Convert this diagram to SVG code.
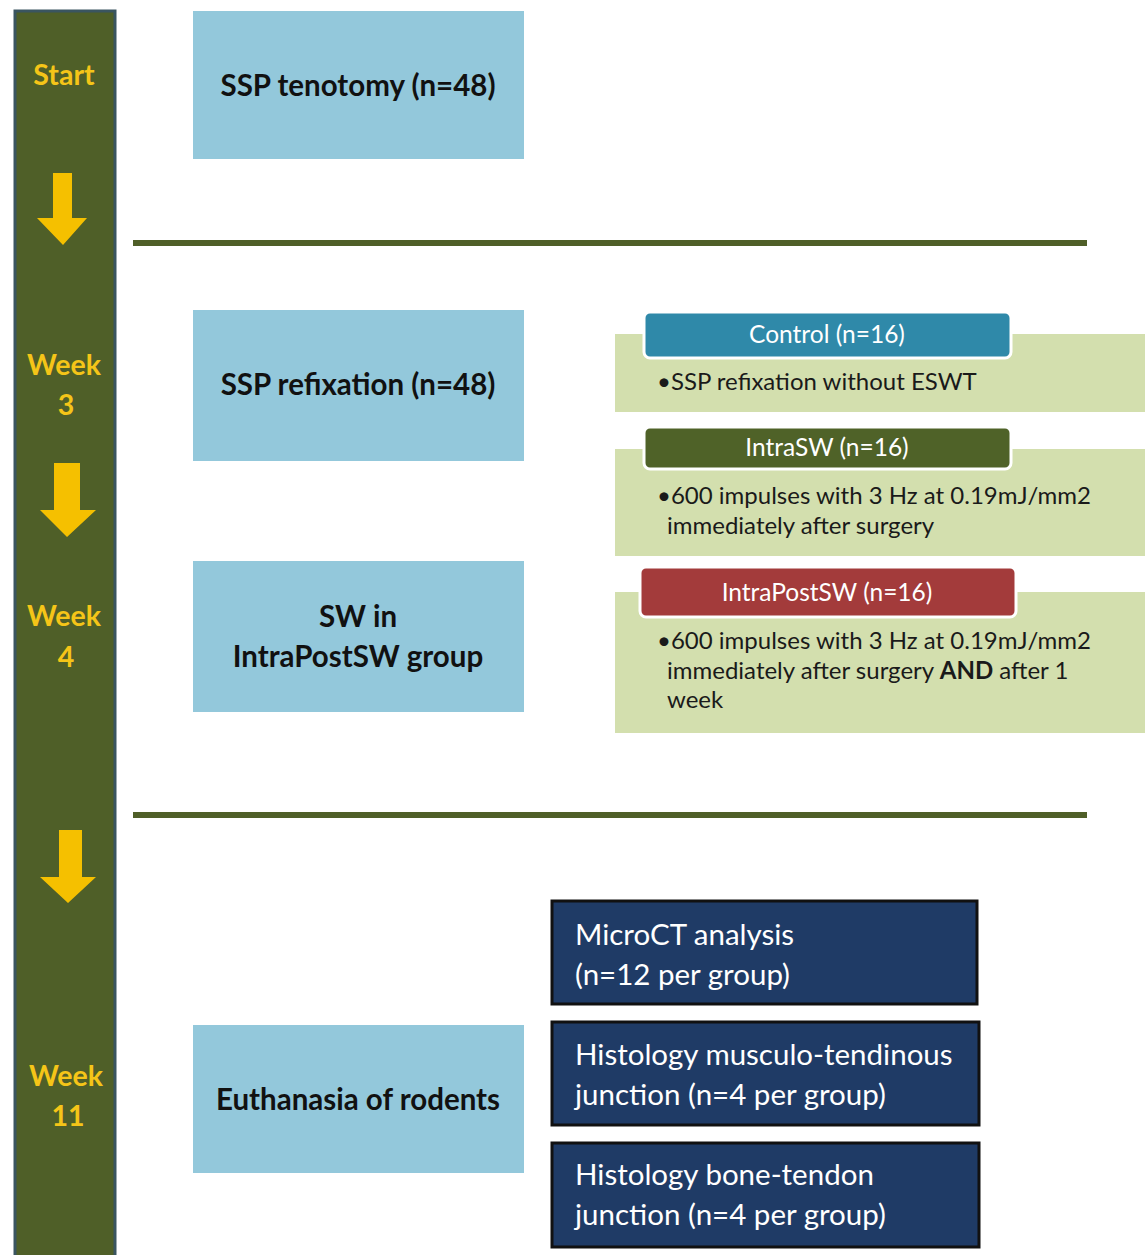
<svg xmlns="http://www.w3.org/2000/svg" width="1147" height="1255" viewBox="0 0 1147 1255">
<style>
.bar{fill:#4f5f28;stroke:#3a5560;stroke-width:3}
.arr{fill:#f5c000}
.wk{font-family:Lato,"Open Sans",sans-serif;font-weight:bold;font-size:28.5px;fill:#f5c518;text-anchor:middle}
.sep{stroke:#4f5f28;stroke-width:6}
.lb{fill:#93c8db}
.lbt{font-family:Lato,"Open Sans",sans-serif;font-weight:bold;font-size:29.5px;fill:#111;text-anchor:middle}
.gbg{fill:#d3dfae}
.hdr{stroke:#fff;stroke-width:3}
.hdt{font-family:Lato,"Open Sans",sans-serif;font-size:24.5px;fill:#fff;text-anchor:middle}
.bt{font-family:Lato,"Open Sans",sans-serif;font-size:24px;fill:#1a1a1a}
.db{fill:#1f3b66;stroke:#111;stroke-width:3}
.dbt{font-family:Lato,"Open Sans",sans-serif;font-size:29.5px;fill:#fff}
</style>
<rect width="1147" height="1255" fill="#fff"/>
<g id="timeline">
<rect class="bar" x="15" y="11" width="100" height="1250"/>
<text class="wk" x="64" y="85">Start</text>
<text class="wk" x="64" y="375">Week</text>
<text class="wk" x="66" y="415">3</text>
<text class="wk" x="64" y="626">Week</text>
<text class="wk" x="66" y="667">4</text>
<text class="wk" x="66" y="1086">Week</text>
<text class="wk" x="68" y="1126">11</text>
<polygon class="arr" points="53,173 72,173 72,218 87,218 63,245 37,218 53,218"/>
<polygon class="arr" points="54,463 80,463 80,510 96,510 67,537 40,510 54,510"/>
<polygon class="arr" points="59,830 82,830 82,877 96,877 68,903 40,877 59,877"/>
</g>
<g id="separators">
<line class="sep" x1="133" y1="243" x2="1087" y2="243"/>
<line class="sep" x1="133" y1="815" x2="1087" y2="815"/>
</g>
<g id="n1"><rect class="lb" x="193" y="11" width="331" height="148"/><text class="lbt" x="358" y="96">SSP tenotomy (n=48)</text></g>
<g id="n2"><rect class="lb" x="193" y="310" width="331" height="151"/><text class="lbt" x="358" y="395">SSP refixation (n=48)</text></g>
<g id="n3"><rect class="lb" x="193" y="561" width="331" height="151"/><text class="lbt" x="358" y="627">SW in</text><text class="lbt" x="358" y="667">IntraPostSW group</text></g>
<g id="n4"><rect class="lb" x="193" y="1025" width="331" height="148"/><text class="lbt" x="358" y="1110">Euthanasia of rodents</text></g>
<g id="control">
<rect class="gbg" x="615" y="334" width="530" height="78"/>
<rect class="hdr" x="644" y="312" width="367" height="46" rx="6" fill="#2f89a9"/>
<text class="hdt" x="827" y="343">Control (n=16)</text>
<text class="bt" x="657" y="390">•SSP refixation without ESWT</text>
</g>
<g id="intrasw">
<rect class="gbg" x="615" y="449" width="530" height="107"/>
<rect class="hdr" x="644" y="427" width="367" height="42" rx="6" fill="#4f6228"/>
<text class="hdt" x="827" y="456">IntraSW (n=16)</text>
<text class="bt" x="657" y="504">•600 impulses with 3 Hz at 0.19mJ/mm2</text>
<text class="bt" x="667" y="534">immediately after surgery</text>
</g>
<g id="intrapostsw">
<rect class="gbg" x="615" y="592" width="530" height="141"/>
<rect class="hdr" x="640" y="567" width="376" height="50" rx="6" fill="#a33b3b"/>
<text class="hdt" x="827" y="601">IntraPostSW (n=16)</text>
<text class="bt" x="657" y="649">•600 impulses with 3 Hz at 0.19mJ/mm2</text>
<text class="bt" x="667" y="679">immediately after surgery <tspan font-weight="bold">AND</tspan> after 1</text>
<text class="bt" x="667" y="708">week</text>
</g>
<g id="microct"><rect class="db" x="552" y="901" width="425" height="103"/><text class="dbt" x="575" y="945">MicroCT analysis</text><text class="dbt" x="575" y="985">(n=12 per group)</text></g>
<g id="histo1"><rect class="db" x="552" y="1022" width="427" height="103"/><text class="dbt" x="575" y="1065">Histology musculo-tendinous</text><text class="dbt" x="575" y="1105">junction (n=4 per group)</text></g>
<g id="histo2"><rect class="db" x="552" y="1143" width="427" height="104"/><text class="dbt" x="575" y="1185">Histology bone-tendon</text><text class="dbt" x="575" y="1225">junction (n=4 per group)</text></g>
<g id="connectors"></g>
</svg>
